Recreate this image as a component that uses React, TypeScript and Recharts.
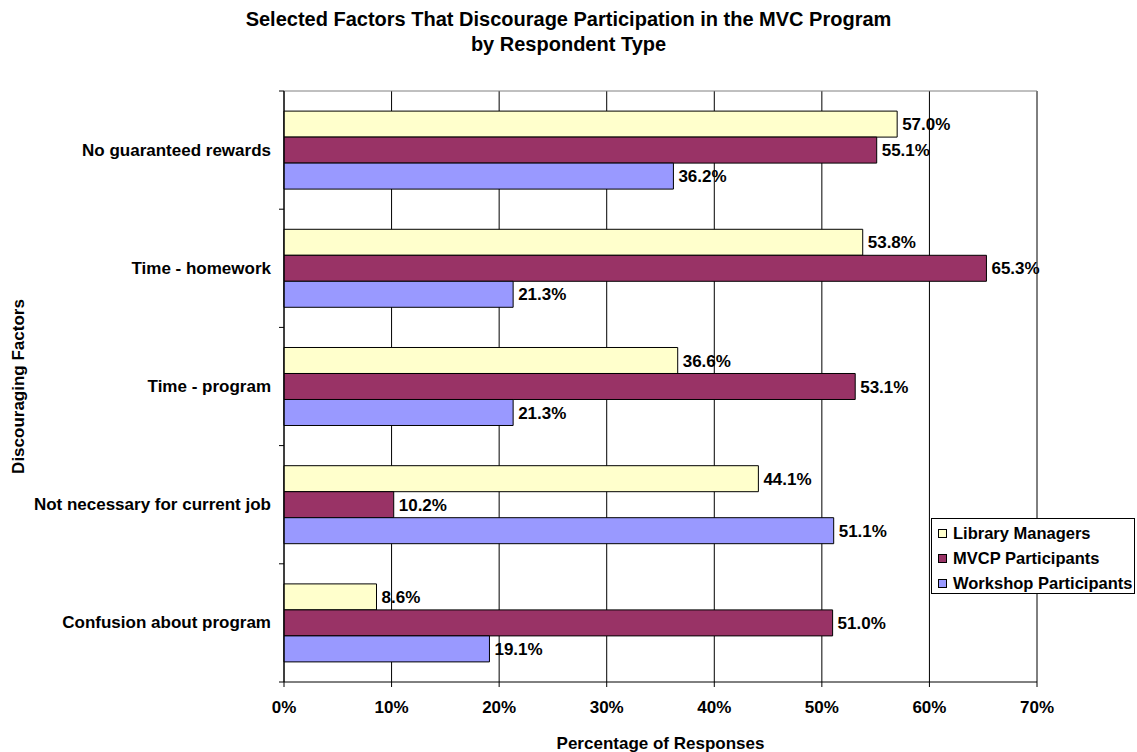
import {
  BarChart,
  Bar,
  XAxis,
  YAxis,
  CartesianGrid,
  ReferenceLine,
  LabelList,
} from "recharts";

const factors = [
  "No guaranteed rewards",
  "Time - homework",
  "Time - program",
  "Not necessary for current job",
  "Confusion about program",
];
const libraryManagers = [57.0, 53.8, 36.6, 44.1, 8.6];
const mvcpParticipants = [55.1, 65.3, 53.1, 10.2, 51.0];
const workshopParticipants = [36.2, 21.3, 21.3, 51.1, 19.1];
const xTicks = [0, 10, 20, 30, 40, 50, 60, 70];

const seriesInfo = [
  { key: "lm", name: "Library Managers", color: "#FFFFCC" },
  { key: "mvcp", name: "MVCP Participants", color: "#993366" },
  { key: "ws", name: "Workshop Participants", color: "#9999FF" },
];

const data = factors.map((f, i) => ({
  factor: f,
  lm: libraryManagers[i],
  mvcp: mvcpParticipants[i],
  ws: workshopParticipants[i],
}));

const FONT = "'Liberation Sans', Arial, Helvetica, sans-serif";
const textStyle = { fontFamily: FONT, fontWeight: 700, fontSize: 17, fill: "#000" };

const W = 1137;
const H = 752;
const AXIS_W = 284;
const TICK_GAP = 13;

function FactorTick(props: any) {
  const { x, y, payload, index } = props;
  const off = payload?.offset ?? 59;
  const ax = x + TICK_GAP;
  return (
    <g>
      <line x1={ax - 5} x2={ax} y1={y - off} y2={y - off} stroke="#000" />
      {index === factors.length - 1 && (
        <line x1={ax - 5} x2={ax} y1={y + off} y2={y + off} stroke="#000" />
      )}
      <text x={x} y={y} textAnchor="end" dominantBaseline="central" style={textStyle}>
        {payload.value}
      </text>
    </g>
  );
}

export default function App() {
  return (
    <div
      style={{
        position: "absolute",
        left: 0,
        top: 0,
        width: W,
        height: H,
        background: "#fff",
        fontFamily: FONT,
      }}
    >
      <div
        style={{
          position: "absolute",
          top: 7,
          left: 0,
          width: W,
          textAlign: "center",
          fontWeight: 700,
          fontSize: 20,
          lineHeight: "25px",
          color: "#000",
        }}
      >
        Selected Factors That Discourage Participation in the MVC Program
        <br />
        by Respondent Type
      </div>

      <BarChart
        width={W}
        height={H}
        data={data}
        layout="vertical"
        margin={{ top: 91, right: 100, bottom: 0, left: 0 }}
        barCategoryGap="17%"
        barGap={0}
      >
        <CartesianGrid horizontal={false} stroke="#000" />
        <CartesianGrid
          vertical={false}
          stroke="#808080"
          horizontalCoordinatesGenerator={({ offset }: any) => [offset.top]}
        />
        <ReferenceLine x={70} stroke="#808080" />
        <XAxis
          type="number"
          domain={[0, 70]}
          ticks={xTicks}
          tickFormatter={(v: number) => `${v}%`}
          axisLine={{ stroke: "#000" }}
          tickLine={{ stroke: "#000" }}
          tickSize={5}
          tickMargin={14}
          height={70}
          tick={textStyle}
          label={{
            content: ({ viewBox }: any) => (
              <text
                x={viewBox.x + viewBox.width / 2}
                y={viewBox.y + 61}
                textAnchor="middle"
                dominantBaseline="central"
                style={textStyle}
              >
                Percentage of Responses
              </text>
            ),
          }}
        />
        <YAxis
          type="category"
          dataKey="factor"
          width={AXIS_W}
          axisLine={{ stroke: "#000" }}
          tickLine={false}
          tickSize={0}
          tickMargin={TICK_GAP}
          tick={<FactorTick />}
          label={{
            content: ({ viewBox }: any) => {
              const cy = viewBox.y + viewBox.height / 2;
              return (
                <text
                  x={18}
                  y={cy}
                  transform={`rotate(-90, 18, ${cy})`}
                  textAnchor="middle"
                  dominantBaseline="central"
                  style={textStyle}
                >
                  Discouraging Factors
                </text>
              );
            },
          }}
        />
        {seriesInfo.map((s) => (
          <Bar
            key={s.key}
            dataKey={s.key}
            name={s.name}
            fill={s.color}
            stroke="#000"
            strokeWidth={1}
            isAnimationActive={false}
          >
            <LabelList
              dataKey={s.key}
              position="right"
              offset={5}
              formatter={(v: any) => `${Number(v).toFixed(1)}%`}
              style={textStyle}
            />
          </Bar>
        ))}
      </BarChart>

      <div
        style={{
          position: "absolute",
          left: 931,
          top: 518,
          width: 204,
          height: 76,
          border: "1px solid #000",
          boxSizing: "border-box",
          background: "#fff",
          paddingTop: 2,
        }}
      >
        {seriesInfo.map((s) => (
          <div
            key={s.key}
            style={{
              display: "flex",
              alignItems: "center",
              height: 25,
              paddingLeft: 6,
              fontWeight: 700,
              fontSize: 16.5,
              color: "#000",
              whiteSpace: "nowrap",
            }}
          >
            <span
              style={{
                display: "inline-block",
                width: 7,
                height: 7,
                background: s.color,
                border: "1px solid #000",
                marginRight: 6,
                flexShrink: 0,
              }}
            />
            {s.name}
          </div>
        ))}
      </div>
    </div>
  );
}
